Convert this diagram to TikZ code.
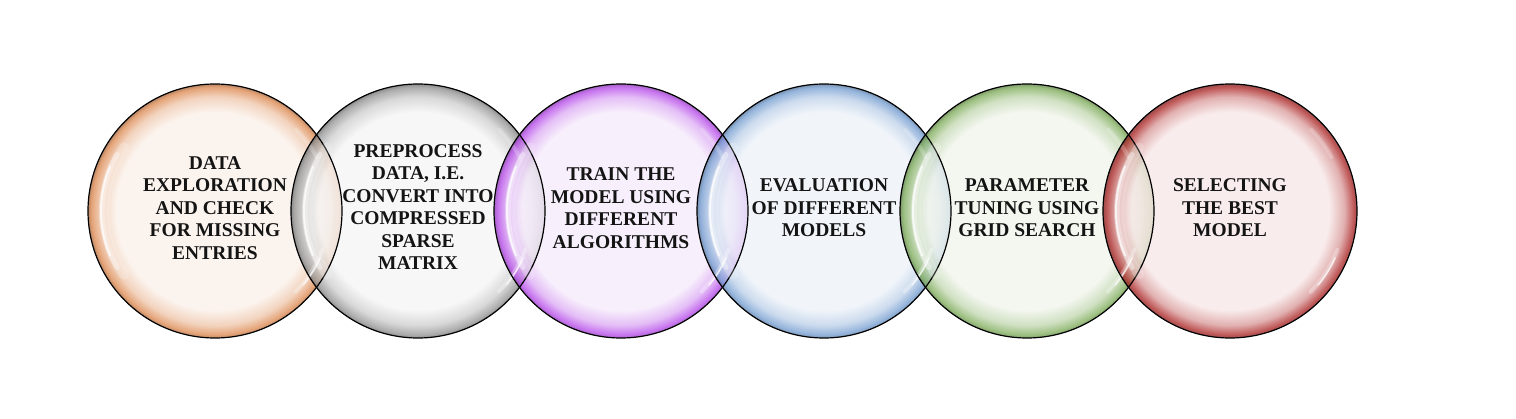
\documentclass[tikz,border=0pt]{standalone}
\usepackage{fontspec}
\setmainfont{Liberation Serif}
\definecolor{oin}{RGB}{251,241,234}\definecolor{oout}{RGB}{222,140,85}
\definecolor{gin}{RGB}{245,245,245}\definecolor{gout}{RGB}{150,150,150}
\definecolor{pin}{RGB}{246,236,251}\definecolor{pout}{RGB}{185,80,235}
\definecolor{bin}{RGB}{238,243,249}\definecolor{bout}{RGB}{120,160,210}
\definecolor{ein}{RGB}{241,245,236}\definecolor{eout}{RGB}{130,175,95}
\definecolor{rin}{RGB}{248,232,232}\definecolor{rout}{RGB}{175,45,45}
\newcommand\glassshading[3]{%
  \pgfdeclareradialshading{#1}{\pgfpoint{0bp}{0bp}}{%
    color(0bp)=(#2); color(19.5bp)=(#2); color(22.5bp)=(#3!40!#2);
    color(24.4bp)=(#3); color(25bp)=(#3!75!black); color(50bp)=(#3!75!black)}}
\glassshading{glassA}{oin}{oout}
\glassshading{glassB}{gin}{gout}
\glassshading{glassC}{pin}{pout}
\glassshading{glassD}{bin}{bout}
\glassshading{glassE}{ein}{eout}
\glassshading{glassF}{rin}{rout}
\tikzset{
  bubble/.style={circle, inner sep=0pt, outer sep=0pt, minimum size=254pt,
    shading=#1, fill opacity=0.8},
  rim/.style={draw=black, line width=1.2pt},
  gloss/.style={draw=white, line cap=round},
  label/.style={align=center, font=\fontsize{19.5}{22.5}\selectfont\bfseries,
    text=black!92, inner sep=0pt}
}
\begin{document}
\begin{tikzpicture}[x=1pt,y=1pt]
\useasboundingbox[fill=white] (0,0) rectangle (1516,418);
\node[bubble=glassA] (c1) at (215,207) {};
\node[bubble=glassB] (c2) at (418,207) {};
\node[bubble=glassC] (c3) at (621,207) {};
\node[bubble=glassD] (c4) at (824,207) {};
\node[bubble=glassE] (c5) at (1027,207) {};
\node[bubble=glassF] (c6) at (1230,207) {};
\foreach \c in {c1,c2,c3,c4,c5,c6}{
  \draw[gloss, line width=10pt, opacity=0.2] ([shift={(145:111)}]\c.center) arc[start angle=145, end angle=215, radius=111];
  \draw[gloss, line width=5pt, opacity=0.35] ([shift={(150:113)}]\c.center) arc[start angle=150, end angle=210, radius=113];
  \draw[gloss, line width=2pt, opacity=0.7] ([shift={(157:114)}]\c.center) arc[start angle=157, end angle=203, radius=114];
  \draw[gloss, line width=4pt, opacity=0.3] ([shift={(-20:114)}]\c.center) arc[start angle=-20, end angle=-45, radius=114];
  \draw[gloss, line width=1.5pt, opacity=0.7] ([shift={(-24:115)}]\c.center) arc[start angle=-24, end angle=-40, radius=115];
  \draw[gloss, line width=4pt, opacity=0.2] ([shift={(45:115)}]\c.center) arc[start angle=45, end angle=28, radius=115];
  \draw[rim] (\c.center) circle[radius=127];
}
\node[label] (t1) at (215,210) {DATA\\EXPLORATION\\AND CHECK\\FOR MISSING\\ENTRIES};
\node[label] (t2) at (418,211) {PREPROCESS\\DATA, I.E.\\CONVERT INTO\\COMPRESSED\\SPARSE\\MATRIX};
\node[label] (t3) at (621,210) {TRAIN THE\\MODEL USING\\DIFFERENT\\ALGORITHMS};
\node[label] (t4) at (824,210) {EVALUATION\\OF DIFFERENT\\MODELS};
\node[label] (t5) at (1027,210) {PARAMETER\\TUNING USING\\GRID SEARCH};
\node[label] (t6) at (1230,210) {SELECTING\\THE BEST\\MODEL};
\end{tikzpicture}
\end{document}
